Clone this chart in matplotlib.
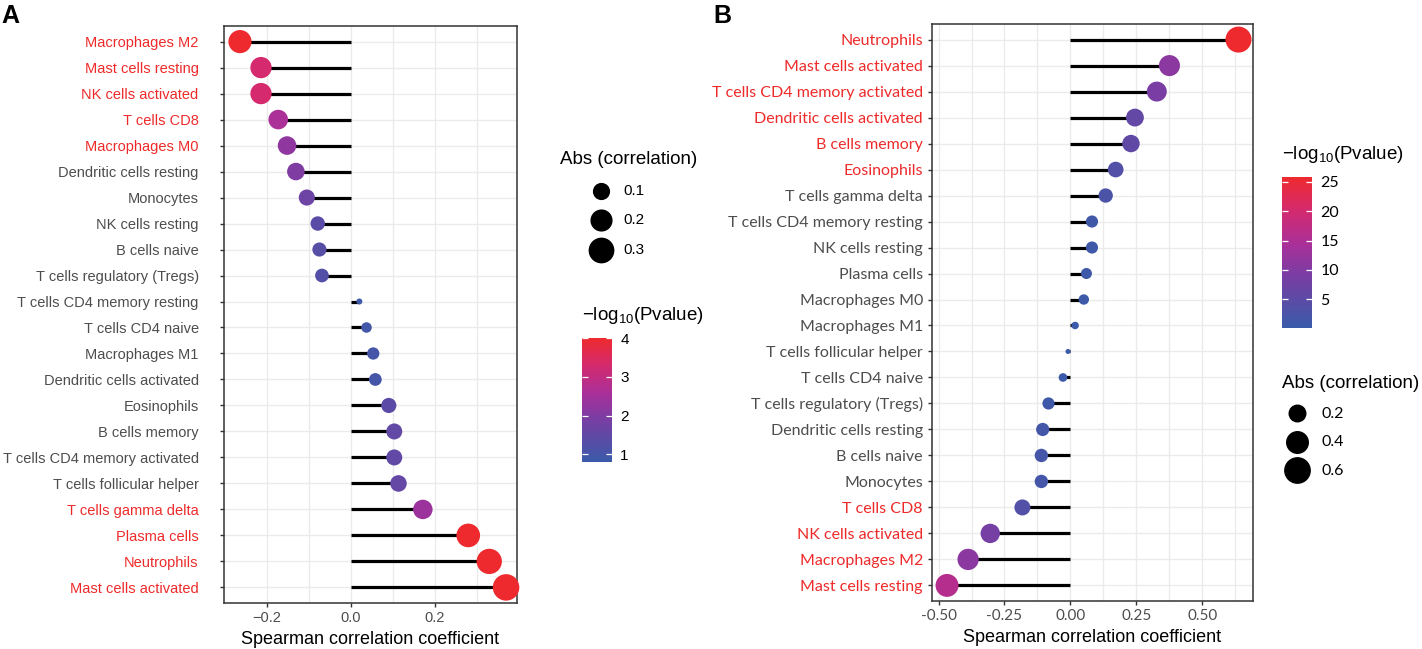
import numpy as np
import matplotlib
matplotlib.use("Agg")
import matplotlib.pyplot as plt
from matplotlib.colors import LinearSegmentedColormap, Normalize

plt.rcParams['font.family'] = ['Liberation Sans', 'DejaVu Sans']
plt.rcParams['mathtext.default'] = 'regular'

# panel A data (top to bottom)
names_a = ["Macrophages M2", "Mast cells resting", "NK cells activated", "T cells CD8",
           "Macrophages M0", "Dendritic cells resting", "Monocytes", "NK cells resting",
           "B cells naive", "T cells regulatory (Tregs)", "T cells CD4 memory resting",
           "T cells CD4 naive", "Macrophages M1", "Dendritic cells activated", "Eosinophils",
           "B cells memory", "T cells CD4 memory activated", "T cells follicular helper",
           "T cells gamma delta", "Plasma cells", "Neutrophils", "Mast cells activated"]
rho_a = [-0.264, -0.214, -0.214, -0.173, -0.152, -0.131, -0.105, -0.079, -0.075, -0.069,
         0.020, 0.037, 0.053, 0.058, 0.090, 0.103, 0.103, 0.113, 0.171, 0.279, 0.329, 0.369]
logp_a = [4.0, 3.3, 3.3, 2.6, 2.2, 2.0, 1.7, 1.35, 1.3, 1.25,
          0.9, 0.95, 1.0, 1.0, 1.4, 1.5, 1.5, 1.55, 2.4, 4.0, 4.0, 4.0]
sig_a = [1, 1, 1, 1, 1, 0, 0, 0, 0, 0, 0, 0, 0, 0, 0, 0, 0, 0, 1, 1, 1, 1]

# panel B data (top to bottom)
names_b = ["Neutrophils", "Mast cells activated", "T cells CD4 memory activated",
           "Dendritic cells activated", "B cells memory", "Eosinophils", "T cells gamma delta",
           "T cells CD4 memory resting", "NK cells resting", "Plasma cells", "Macrophages M0",
           "Macrophages M1", "T cells follicular helper", "T cells CD4 naive",
           "T cells regulatory (Tregs)", "Dendritic cells resting", "B cells naive", "Monocytes",
           "T cells CD8", "NK cells activated", "Macrophages M2", "Mast cells resting"]
rho_b = [0.638, 0.376, 0.328, 0.245, 0.230, 0.172, 0.134, 0.082, 0.082, 0.061, 0.051,
         0.018, -0.009, -0.028, -0.083, -0.105, -0.110, -0.110, -0.182, -0.304, -0.388, -0.468]
logp_b = [25.8, 11.0, 9.0, 6.0, 5.5, 3.5, 2.6, 1.1, 1.1, 0.7, 0.55,
          0.2, 0.1, 0.35, 1.1, 1.6, 1.7, 1.7, 3.5, 8.5, 11.0, 16.0]
sig_b = [1, 1, 1, 1, 1, 1, 0, 0, 0, 0, 0, 0, 0, 0, 0, 0, 0, 0, 1, 1, 1, 1]

size_ticks_a = [0.1, 0.2, 0.3]
size_ticks_b = [0.2, 0.4, 0.6]
cbar_ticks_a = [1, 2, 3, 4]
cbar_ticks_b = [5, 10, 15, 20, 25]

RED = '#EE2A2A'
GREY = '#4D4D4D'
cmap = LinearSegmentedColormap.from_list(
    'bp', [(0, '#3A5BA9'), (0.35, '#7A3DA3'), (0.55, '#A8309A'), (0.78, '#D42A6E'), (1, '#EE2A2E')])


def sizes(vals, lo, hi, dmin, dmax):
    v = np.abs(np.asarray(vals, float))
    t = np.clip((v - lo) / (hi - lo), 0, 1)
    d = dmin + (dmax - dmin) * np.sqrt(t)
    return (d * 0.72) ** 2


def lollipop(ax, names, rho, logp, sig, norm, dmin, dmax, lab_font, lab_size, pad):
    n = len(names)
    y = np.arange(n)[::-1]
    lo, hi = np.min(np.abs(rho)), np.max(np.abs(rho))
    ax.set_axisbelow(True)
    ax.hlines(y, 0, rho, color='black', lw=2.3, zorder=2)
    sc = ax.scatter(rho, y, s=sizes(rho, lo, hi, dmin, dmax), c=logp, cmap=cmap, norm=norm,
                    linewidths=0, zorder=3, clip_on=False)
    ax.set_yticks(y)
    ax.set_yticklabels(names, fontsize=lab_size, family=lab_font)
    for lab, s in zip(ax.get_yticklabels(), sig):
        lab.set_color(RED if s else GREY)
    ax.set_ylim(-0.6, n - 0.4)
    ax.grid(True, which='both', color='#EBEBEB', lw=1)
    for sp in ax.spines.values():
        sp.set_color('#333333')
        sp.set_linewidth(1.1)
    ax.tick_params(axis='both', which='major', length=3.2, width=1, color='#333333')
    ax.tick_params(axis='y', pad=pad)
    ax.tick_params(axis='x', labelsize=10.5, labelcolor=GREY, pad=2.5)
    ax.tick_params(axis='both', which='minor', length=0)
    ax.set_xlabel('Spearman correlation coefficient', fontsize=13, labelpad=4.5)
    return sc, lo, hi


fig = plt.figure(figsize=(14.22, 6.49), dpi=100)
W, H = 1422, 649


def box(l, t, r, b):
    return [l / W, 1 - b / H, (r - l) / W, (b - t) / H]


# ---- panel A
axA = fig.add_axes(box(224, 26, 517, 603))
normA = Normalize(0.8, 4)
scA, loA, hiA = lollipop(axA, names_a, rho_a, logp_a, sig_a, normA, 6, 26.5,
                         'Liberation Sans', 10.5, 15)
axA.set_xlim(-0.302, 0.395)
axA.set_xticks([-0.2, 0.0, 0.2])
axA.set_xticklabels(['\u22120.2', '0.0', '0.2'])
axA.set_xticks([-0.1, 0.1, 0.3], minor=True)

hA = [axA.scatter([], [], s=sizes([v], loA, hiA, 6, 26.5)[0], color='black') for v in size_ticks_a]
legA = axA.legend(hA, [str(v) for v in size_ticks_a], title='Abs (correlation)', loc='upper left',
                  bbox_to_anchor=(560 / W, 1 - 151 / H), bbox_transform=fig.transFigure,
                  frameon=False, fontsize=11, title_fontsize=13.5, borderpad=0, borderaxespad=0,
                  labelspacing=1.02, handletextpad=-1.25, handlelength=5.37, scatterpoints=1)
legA._legend_box.align = 'left'

caxA = fig.add_axes(box(582, 338, 612, 462))
cbA = fig.colorbar(scA, cax=caxA, ticks=cbar_ticks_a)
cbA.outline.set_visible(False)
caxA.tick_params(left=True, right=True, direction='in', color='white', length=4, width=0.9,
                 labelsize=11, pad=6)
caxA.set_title('\u2212log$_{10}$(Pvalue)', loc='left', fontsize=13.5, pad=13, x=0)

fig.text(1 / W, 1 - 16 / H, 'A', fontsize=18, fontweight='bold', va='center', ha='left')

# ---- panel B
axB = fig.add_axes(box(932, 24, 1253, 601))
normB = Normalize(0.1, 25.85)
scB, loB, hiB = lollipop(axB, names_b, rho_b, logp_b, sig_b, normB, 5, 26, 'Lato', 11.5, 3.3)
axB.set_xlim(-0.525, 0.693)
axB.set_xticks([-0.5, -0.25, 0.0, 0.25, 0.5])
axB.set_xticklabels(['-0.50', '-0.25', '0.00', '0.25', '0.50'], family='Lato', fontsize=11)
axB.set_xticks([-0.375, -0.125, 0.125, 0.375, 0.625], minor=True)

caxB = fig.add_axes(box(1282, 177, 1312, 328))
cbB = fig.colorbar(scB, cax=caxB, ticks=cbar_ticks_b)
cbB.outline.set_visible(False)
caxB.tick_params(left=True, right=True, direction='in', color='white', length=4, width=0.9,
                 labelsize=11.5, pad=6)
for t in caxB.get_yticklabels():
    t.set_family('Lato')
caxB.set_title('\u2212log$_{10}$(Pvalue)', loc='left', fontsize=13.5, pad=13, x=0)

hB = [axB.scatter([], [], s=sizes([v], loB, hiB, 5, 26)[0], color='black') for v in size_ticks_b]
legB = axB.legend(hB, [str(v) for v in size_ticks_b], title='Abs (correlation)', loc='upper left',
                  bbox_to_anchor=(1282 / W, 1 - 375 / H), bbox_transform=fig.transFigure,
                  frameon=False, title_fontsize=13.5, borderpad=0, borderaxespad=0,
                  labelspacing=0.9, handletextpad=0.65, handlelength=1.84, scatterpoints=1,
                  prop={'family': 'Lato', 'size': 11.5})
legB._legend_box.align = 'left'

fig.text(713 / W, 1 - 16 / H, 'B', fontsize=18, fontweight='bold', va='center', ha='left')

fig.savefig('out.png', dpi=100)
